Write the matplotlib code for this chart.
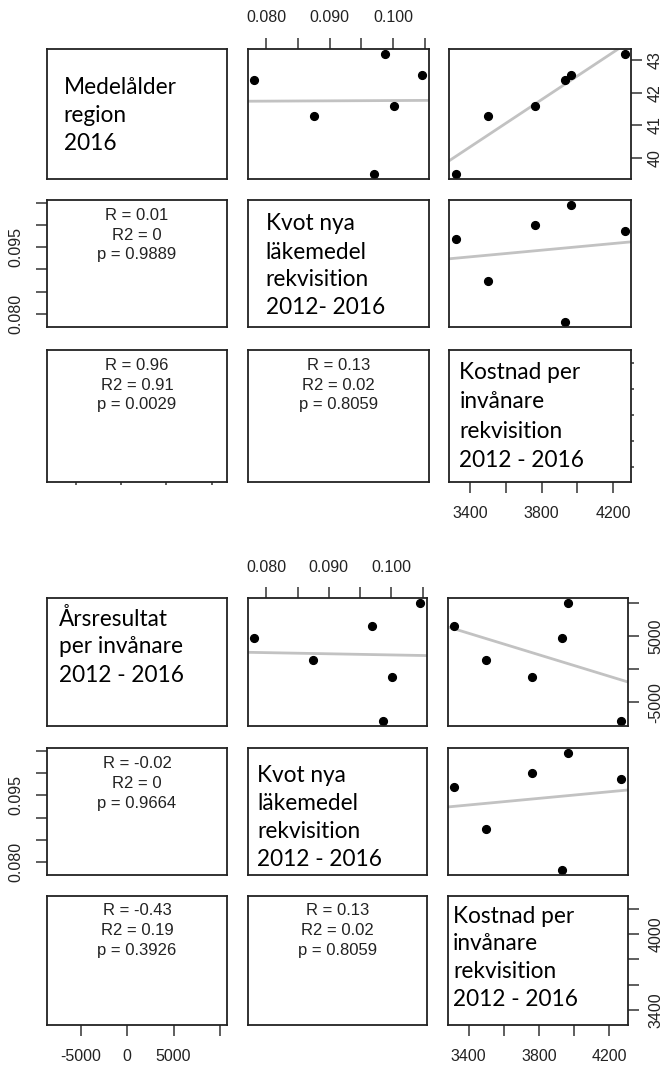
import numpy as np
import matplotlib.pyplot as plt

# ---------------- Data ----------------
medelalder = [39.5, 41.3, 41.6, 42.55, 42.4, 43.2]
kvot = [0.0969, 0.0875, 0.1001, 0.1046, 0.0781, 0.0987]
kostnad = [3318, 3500, 3762, 3966, 3932, 4266]
arsresultat = [6450, 1430, -1230, 10000, 4700, -7900]

label_medel = ["Medelålder", "region", "2016"]
label_kvot_top = ["Kvot nya", "läkemedel", "rekvisition", "2012- 2016"]
label_kvot_bot = ["Kvot nya", "läkemedel", "rekvisition", "2012 - 2016"]
label_kost = ["Kostnad per", "invånare", "rekvisition", "2012 - 2016"]
label_ars = ["Årsresultat", "per invånare", "2012 - 2016"]

# lower-panel stats, keyed by (row, col)
stats_top = {(1, 0): ["R = 0.01", "R2 = 0", "p = 0.9889"],
             (2, 0): ["R = 0.96", "R2 = 0.91", "p = 0.0029"],
             (2, 1): ["R = 0.13", "R2 = 0.02", "p = 0.8059"]}
stats_bot = {(1, 0): ["R = -0.02", "R2 = 0", "p = 0.9664"],
             (2, 0): ["R = -0.43", "R2 = 0.19", "p = 0.3926"],
             (2, 1): ["R = 0.13", "R2 = 0.02", "p = 0.8059"]}

kvot_ticks = [0.080, 0.085, 0.090, 0.095, 0.100, 0.105]
kvot_top_labels = ["0.080", "", "0.090", "", "0.100", ""]
kvot_left_labels = ["0.080", "", "", "0.095", "", ""]
age_ticks = [40, 41, 42, 43]
age_labels = ["40", "41", "42", "43"]
kost_ticks = [3400, 3600, 3800, 4000, 4200]
kost_bottom_labels = ["3400", "", "3800", "", "4200"]
kost_right_labels = ["3400", "", "", "4000", ""]
ars_ticks = [-5000, 0, 5000, 10000]
ars_bottom_labels = ["-5000", "0", "5000", ""]
ars_right_labels = ["-5000", "", "5000", ""]

# ---------------- Layout (pixels) ----------------
W, H = 664, 1067
TOP_COLS = [(46.6, 227.4), (247.7, 429.0), (449.0, 631.4)]
TOP_ROWS = [(49, 179), (200, 327), (350, 482)]
BOT_COLS = [(47.4, 226.6), (247.7, 426.9), (447.6, 627.6)]
BOT_ROWS = [(598.3, 726), (748.3, 875), (895.7, 1025)]

LINE_GRAY = "#c2c2c2"
TICK_FAMILY = "Liberation Sans"
DIAG_FONT = dict(family="Lato", size=16.3)
STAT_FONT = dict(family="Liberation Sans", size=12)

fig = plt.figure(figsize=(W / 100, H / 100), dpi=100)


def lims(v):
    lo, hi = min(v), max(v)
    d = (hi - lo) * 0.04
    return lo - d, hi + d


def px_text(x, y, s, **kw):
    fig.text(x / W, 1 - y / H, s, **kw)


def style_ticks(ax, axis, length=8, pad=9):
    ax.tick_params(axis=axis, length=length, width=1.1, color="#333333",
                   pad=pad, labelsize=11.5, labelcolor="#222222")
    lab = ax.get_xticklabels() if axis == "x" else ax.get_yticklabels()
    for t in lab:
        t.set_family(TICK_FAMILY)


def draw_grid(cols, rows, variables, stats, diag):
    axes = [[None] * 3 for _ in range(3)]
    for i, (y0, y1) in enumerate(rows):
        for j, (x0, x1) in enumerate(cols):
            ax = fig.add_axes([x0 / W, 1 - y1 / H, (x1 - x0) / W, (y1 - y0) / H])
            ax.set_xlim(lims(variables[j]))
            ax.set_ylim(lims(variables[i]))
            ax.set_xticks([])
            ax.set_yticks([])
            for sp in ax.spines.values():
                sp.set_linewidth(1.3)
                sp.set_color("#222222")
            axes[i][j] = ax
            if j > i:
                xs, ys = variables[j], variables[i]
                slope, icpt = np.polyfit(xs, ys, 1)
                ax.axline((0, icpt), slope=slope, color=LINE_GRAY, lw=2, zorder=1)
                ax.plot(xs, ys, "o", color="black", ms=5.6, zorder=2)
            elif j < i:
                xc = (x0 + x1) / 2
                for k, line in enumerate(stats[(i, j)]):
                    px_text(xc, y0 + 15 + 20 * k, line, ha="center", va="center",
                            color="#222222", **STAT_FONT)
    for (i, xoff, ys, lines) in diag:
        x0 = cols[i][0]
        for y, line in zip(ys, lines):
            px_text(x0 + xoff, y, line, ha="left", va="center", color="black", **DIAG_FONT)
    return axes


# ---------------- Top grid ----------------
top_vars = [medelalder, kvot, kostnad]
top_diag = [(0, 17, [87, 115.3, 143.7], label_medel),
            (1, 18, [224, 252.4, 280, 308], label_kvot_top),
            (2, 10.5, [372.5, 402, 431.5, 461], label_kost)]
ax_t = draw_grid(TOP_COLS, TOP_ROWS, top_vars, stats_top, top_diag)

a = ax_t[0][1]
a.xaxis.set_ticks_position("top")
a.set_xticks(kvot_ticks, kvot_top_labels)
style_ticks(a, "x")

a = ax_t[1][0]
a.set_yticks(kvot_ticks, kvot_left_labels, rotation=90, va="center")
style_ticks(a, "y")

a = ax_t[0][2]
a.yaxis.set_ticks_position("right")
a.set_yticks(age_ticks, age_labels, rotation=90, va="center")
style_ticks(a, "y", pad=4)

a = ax_t[2][0]
a.set_xticks(age_ticks, [""] * len(age_ticks))
style_ticks(a, "x", length=2.5)

a = ax_t[2][2]
a.set_xticks(kost_ticks, kost_bottom_labels)
style_ticks(a, "x")
a.yaxis.set_ticks_position("right")
a.set_yticks(kost_ticks, [""] * len(kost_ticks))
style_ticks(a, "y", length=2.5)

# ---------------- Bottom grid ----------------
bot_vars = [arsresultat, kvot, kostnad]
bot_diag = [(0, 12, [619, 646.7, 675.7], label_ars),
            (1, 9.3, [775.7, 804, 831.4, 859.7], label_kvot_bot),
            (2, 5.4, [916.7, 944, 971.4, 1000], label_kost)]
ax_b = draw_grid(BOT_COLS, BOT_ROWS, bot_vars, stats_bot, bot_diag)

a = ax_b[0][1]
a.xaxis.set_ticks_position("top")
a.set_xticks(kvot_ticks, kvot_top_labels)
style_ticks(a, "x")

a = ax_b[1][0]
a.set_yticks(kvot_ticks, kvot_left_labels, rotation=90, va="center")
style_ticks(a, "y")

a = ax_b[0][2]
a.yaxis.set_ticks_position("right")
a.set_yticks(ars_ticks, ars_right_labels, rotation=90, va="center")
style_ticks(a, "y", pad=7)

a = ax_b[2][0]
a.set_xticks(ars_ticks, ars_bottom_labels)
style_ticks(a, "x")

a = ax_b[2][2]
a.set_xticks(kost_ticks, kost_bottom_labels)
style_ticks(a, "x")
a.yaxis.set_ticks_position("right")
a.set_yticks(kost_ticks, kost_right_labels, rotation=90, va="center")
style_ticks(a, "y", pad=7)

fig.savefig("out.png", dpi=100)
